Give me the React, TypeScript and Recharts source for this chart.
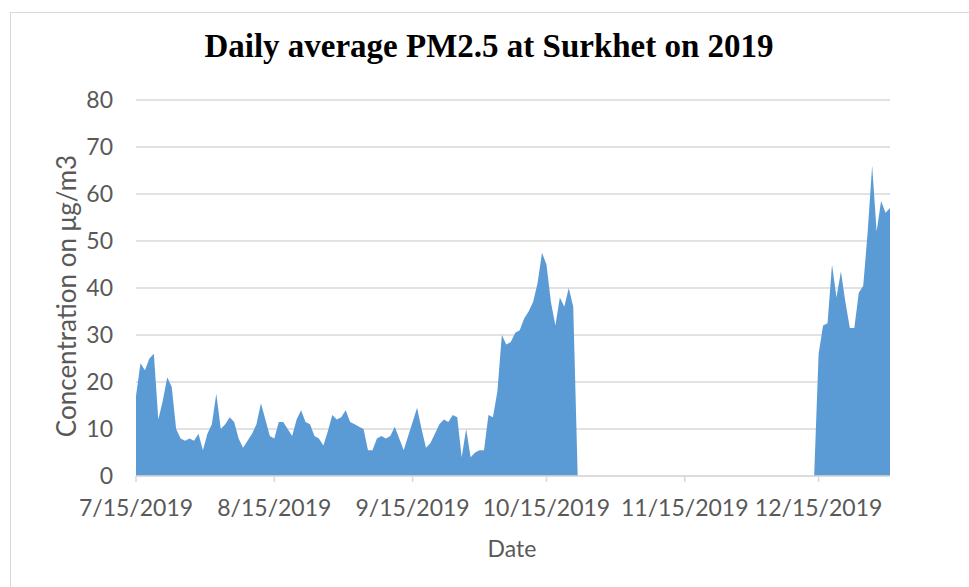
import React from 'react';
import { AreaChart, Area, XAxis, YAxis, CartesianGrid } from 'recharts';

// daily PM2.5, starting 7/15/2019 (null = no measurement)
const pm25: (number | null)[] = [
  17, 24, 22.5, 25, 26, 12, 16, 21, 19, 10,
  8, 7.5, 8, 7.5, 9, 5.5, 9, 11, 17.5, 10,
  11, 12.5, 11.5, 8, 6, 7.5, 9, 11, 15.5, 12,
  8.5, 8, 11.5, 11.5, 10, 8.5, 12, 14, 11.5, 11,
  8.5, 8, 6.5, 9.5, 13, 12, 12.5, 14, 11.5, 11,
  10.5, 10, 5.5, 5.5, 8, 8.5, 8, 8.5, 10.5, 8,
  5.5, 8.5, 11.5, 14.5, 10, 6, 7, 9, 11, 12,
  11.5, 13, 12.5, 4, 10, 4, 5, 5.5, 5.5, 13,
  12.5, 18, 30, 28, 28.5, 30.5, 31, 33.5, 35, 37,
  41, 47.5, 45, 37, 32, 38, 36, 40, 36, 0,
  null, null, null, null, null, null, null, null, null, null,
  null, null, null, null, null, null, null, null, null, null,
  null, null, null, null, null, null, null, null, null, null,
  null, null, null, null, null, null, null, null, null, null,
  null, null, null, null, null, null, null, null, null, null,
  null, null, 0, 26, 32, 32.5, 45, 38, 43.5, 37,
  31.5, 31.5, 39, 40.5, 52, 66, 52, 58.5, 56, 57,
];

const dateTicks = ['7/15/2019', '8/15/2019', '9/15/2019', '10/15/2019', '11/15/2019', '12/15/2019'];
const yTicks = [0, 10, 20, 30, 40, 50, 60, 70, 80];

const dates = pm25.map((_, i) => {
  const d = new Date(2019, 6, 15 + i);
  return `${d.getMonth() + 1}/${d.getDate()}/${d.getFullYear()}`;
});

const data = dates.map((date, i) => ({ date, pm25: pm25[i] }));

const labelFont = 'Lato, "Open Sans", sans-serif';

const App: React.FC = () => {
  return (
    <div style={{ position: 'absolute', left: 0, top: 0, width: 969, height: 587, background: '#fff', overflow: 'hidden' }}>
      <div
        style={{
          position: 'absolute',
          left: 10,
          top: 12,
          width: 980,
          height: 600,
          border: '1px solid #D9D9D9',
        }}
      />
      <div
        style={{
          position: 'absolute',
          left: 0,
          width: 978,
          top: 27,
          textAlign: 'center',
          fontFamily: '"Liberation Serif", serif',
          fontWeight: 'bold',
          fontSize: 33,
          color: '#000',
          lineHeight: '38px',
        }}
      >
        Daily average PM2.5 at Surkhet on 2019
      </div>
      <AreaChart
        width={969}
        height={587}
        data={data}
        margin={{ top: 100, right: 79, left: 76, bottom: 51 }}
        style={{ position: 'absolute', left: 0, top: 0 }}
      >
        <CartesianGrid vertical={false} stroke="#D9D9D9" strokeWidth={1.5} />
        <XAxis
          dataKey="date"
          ticks={dateTicks}
          interval={0}
          height={60}
          stroke="#D9D9D9"
          strokeWidth={1.5}
          tickSize={6}
          tickMargin={18}
          tick={{ fill: '#595959', fontSize: 23, fontFamily: labelFont }}
        />
        <YAxis
          domain={[0, 80]}
          ticks={yTicks}
          width={60}
          axisLine={false}
          tickLine={false}
          tickSize={0}
          tickMargin={23}
          tick={{ fill: '#595959', fontSize: 23, fontFamily: labelFont }}
        />
        <Area
          type="linear"
          dataKey="pm25"
          stroke="none"
          fill="#5B9BD5"
          fillOpacity={1}
          isAnimationActive={false}
        />
      </AreaChart>
      <div
        style={{
          position: 'absolute',
          left: 66,
          top: 296,
          transform: 'translate(-50%, -50%) rotate(-90deg)',
          whiteSpace: 'nowrap',
          fontFamily: labelFont,
          fontSize: 26,
          color: '#595959',
        }}
      >
        Concentration on μg/m3
      </div>
      <div
        style={{
          position: 'absolute',
          left: 512,
          top: 548,
          transform: 'translate(-50%, -50%)',
          whiteSpace: 'nowrap',
          fontFamily: labelFont,
          fontSize: 23,
          color: '#595959',
        }}
      >
        Date
      </div>
    </div>
  );
};

export default App;
